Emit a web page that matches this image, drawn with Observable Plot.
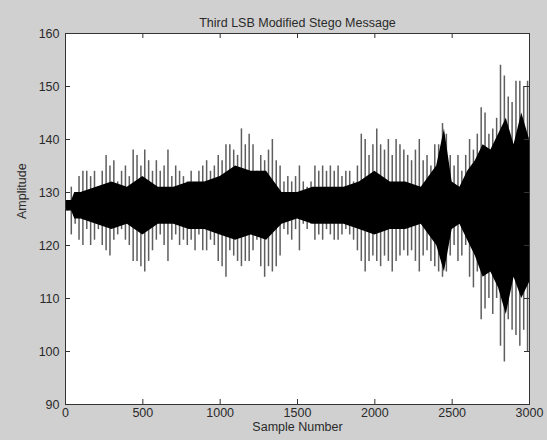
<!DOCTYPE html>
<html><head><meta charset="utf-8">
<script src="https://cdn.jsdelivr.net/npm/d3@7"></script>
<script src="https://cdn.jsdelivr.net/npm/@observablehq/plot@0.6"></script>
<style>
body{margin:0;background:#d0d0d0;}
#c{width:547px;height:440px;}
</style>
</head><body><div id="c"></div>
<script>
const title = "Third LSB Modified Stego Message";
const xLabel = "Sample Number";
const yLabel = "Amplitude";
const xTicks = [0, 500, 1000, 1500, 2000, 2500, 3000];
const yTicks = [90, 100, 110, 120, 130, 140, 150, 160];
const binWidth = 25;
// outer spike extent per 25-sample bin
const spikeTop = [128.5,131,130,133,134,134,133,134,131,134,137,135,136,132,134,135,133,138,137,135,
  138,136,134,136,134,135,138,133,135,134,133,132,134,131,134,135,136,134,135,137,
  136,139,139,138,137,142,139,141,139,134,137,136,138,140,136,135,132,133,132,133,
  135,132,131,132,135,134,135,134,135,134,135,133,134,134,132,135,141,140,137,139,
  142,139,138,140,137,140,139,138,137,136,138,140,136,137,135,139,139,143,141,137,
  135,137,134,137,140,138,141,146,145,141,142,144,154,152,148,147,151,151,150,151];
const spikeBottom = [126.5,122,124,121,120,123,120,121,123,120,119,118,121,122,123,121,120,117,117,116,
  115,117,119,121,122,120,117,121,122,120,121,120,121,119,122,119,119,121,120,117,
  116,114,119,118,117,116,117,117,119,121,116,114,116,115,116,118,123,122,121,123,
  119,124,123,124,121,122,121,123,122,121,121,122,123,122,121,119,117,115,117,118,
  117,116,118,117,115,117,118,119,118,119,117,115,118,119,117,116,115,114,115,118,
  120,117,118,120,114,112,115,106,108,110,107,110,101,98,106,104,103,101,104,100];
// dense black core of the trace
const coreX = [0,40,60,100,200,300,400,500,600,700,800,900,1000,1100,1200,1300,1400,1500,1600,1700,
  1800,1900,2000,2100,2200,2300,2400,2450,2500,2550,2600,2650,2700,2750,2800,2850,2900,2950,3000];
const coreTop = [128.5,128.5,130,130,131,132,131,133,131,131,132,132,133,135,134,134,130,130,131,131,
  131,132,134,132,132,131,135,142,132,131,134,136,139,138,141,144,139,145,140];
const coreBottom = [126.5,126.5,125,125,124,123,124,122,124,124,123,123,122,121,122,121,124,125,124,124,
  124,123,122,123,123,124,120,115,123,124,121,118,114,115,112,107,114,110,113];

const spikes = spikeTop.map((t, i) => ({x: i * binWidth + binWidth / 2, top: t, bottom: spikeBottom[i]}));
const core = coreX.map((x, i) => ({x, top: coreTop[i], bottom: coreBottom[i]}));

const W = 547, H = 440, mL = 65, mR = 18, mT = 33, mB = 36;
const frameW = W - mL - mR, frameH = H - mT - mB, tick = 5;
const axisCol = "#333";
const fmt = d => String(d);
const chart = Plot.plot({
  width: W, height: H,
  marginLeft: mL, marginRight: mR, marginTop: mT, marginBottom: mB,
  style: {background: "transparent", fontFamily: "'Liberation Sans', Arial, sans-serif", fontSize: "12.5px", color: "#2a2a2a"},
  x: {domain: [0, 3000]},
  y: {domain: [90, 160]},
  marks: [
    Plot.frame({fill: "white", stroke: null}),
    Plot.ruleX(spikes, {x: "x", y1: "bottom", y2: "top", stroke: "#5e5e5e", strokeWidth: 1.5}),
    Plot.areaY(core, {x: "x", y1: "bottom", y2: "top", fill: "black"}),
    Plot.tickX(xTicks, {x: d => d, insetTop: frameH - tick, stroke: axisCol}),
    Plot.tickX(xTicks, {x: d => d, insetBottom: frameH - tick, stroke: axisCol}),
    Plot.tickY(yTicks, {y: d => d, insetRight: frameW - tick, stroke: axisCol}),
    Plot.tickY(yTicks, {y: d => d, insetLeft: frameW - tick, stroke: axisCol}),
    Plot.frame({stroke: axisCol, strokeWidth: 1}),
    Plot.axisX(xTicks, {anchor: "bottom", tickSize: 0, tickPadding: 4, label: null, tickFormat: fmt, fontSize: 12.5}),
    Plot.axisY(yTicks, {anchor: "left", tickSize: 0, tickPadding: 6, label: null, tickFormat: fmt, fontSize: 12.5}),
    Plot.text([title], {frameAnchor: "top", dy: -15, text: d => d, fontSize: 12.5}),
    Plot.text([xLabel], {frameAnchor: "bottom", dy: 26, text: d => d, fontSize: 12.5}),
    Plot.text([yLabel], {frameAnchor: "left", dx: -44, rotate: -90, text: d => d, fontSize: 12.5})
  ]
});
document.getElementById("c").appendChild(chart);
</script>
</body></html>
